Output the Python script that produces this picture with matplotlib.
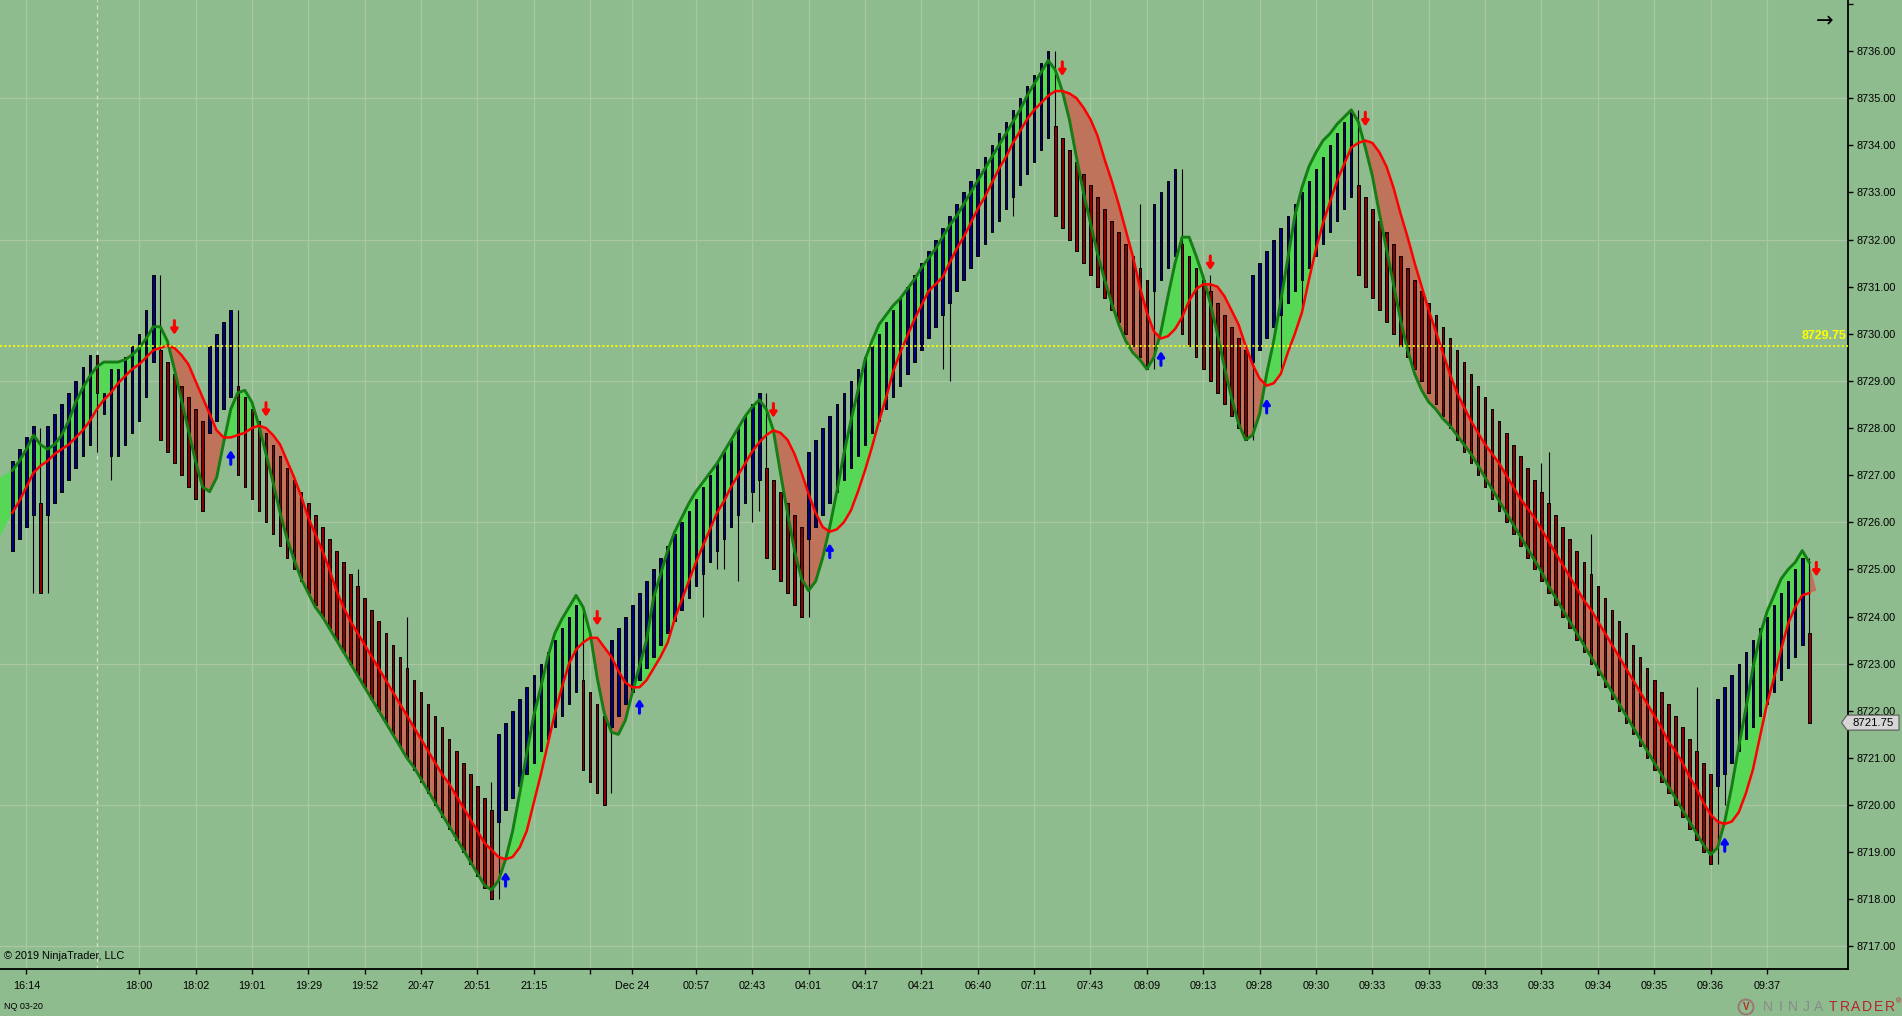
import numpy as np
import matplotlib
matplotlib.use('Agg')
import matplotlib.pyplot as plt
from matplotlib.patches import Polygon, Circle
from matplotlib.transforms import blended_transform_factory

plt.rcParams['font.family'] = ['Liberation Sans', 'DejaVu Sans']

# ---- bar data ----
bar_open = [
    8725.4, 8725.65, 8725.9, 8726.15, 8726.4, 8726.15, 8726.4, 8726.65, 8726.9, 8727.15,
    8727.4, 8727.65, 8729.55, 8728.3, 8727.4, 8727.4, 8727.65, 8727.9, 8728.15, 8728.65,
    8729.4, 8729.65, 8729.4, 8729.15, 8728.9, 8728.65, 8728.4, 8728.15, 8727.9, 8728.15,
    8728.4, 8728.65, 8728.9, 8728.65, 8728.4, 8728.15, 8727.9, 8727.65, 8727.4, 8727.15,
    8726.9, 8726.65, 8726.4, 8726.15, 8725.9, 8725.65, 8725.4, 8725.15, 8724.9, 8724.65,
    8724.4, 8724.15, 8723.9, 8723.65, 8723.4, 8723.15, 8722.9, 8722.65, 8722.4, 8722.15,
    8721.9, 8721.65, 8721.4, 8721.15, 8720.9, 8720.65, 8720.4, 8720.15, 8719.9, 8719.65,
    8719.9, 8720.15, 8720.4, 8720.65, 8720.9, 8721.15, 8721.4, 8721.65, 8721.9, 8722.15,
    8722.4, 8722.65, 8722.4, 8722.15, 8721.9, 8721.65, 8721.9, 8722.15, 8722.4, 8722.65,
    8722.9, 8723.15, 8723.4, 8723.65, 8723.9, 8724.15, 8724.4, 8724.65, 8724.9, 8725.15,
    8725.4, 8725.65, 8725.9, 8726.15, 8726.4, 8726.65, 8726.9, 8727.15, 8726.9, 8726.65,
    8726.4, 8726.15, 8725.9, 8725.65, 8725.9, 8726.15, 8726.4, 8726.65, 8726.9, 8727.15,
    8727.4, 8727.65, 8727.9, 8728.15, 8728.4, 8728.65, 8728.9, 8729.15, 8729.4, 8729.65,
    8729.9, 8730.15, 8730.4, 8730.65, 8730.9, 8731.15, 8731.4, 8731.65, 8731.9, 8732.15,
    8732.4, 8732.65, 8732.9, 8733.15, 8733.4, 8733.65, 8733.9, 8734.15, 8734.4, 8734.15,
    8733.9, 8733.65, 8733.4, 8733.15, 8732.9, 8732.65, 8732.4, 8732.15, 8731.9, 8731.65,
    8731.4, 8731.15, 8730.9, 8731.15, 8731.4, 8731.65, 8731.9, 8731.65, 8731.4, 8731.15,
    8730.9, 8730.65, 8730.4, 8730.15, 8729.9, 8729.65, 8729.4, 8729.65, 8729.9, 8730.15,
    8730.4, 8730.65, 8730.9, 8731.15, 8731.4, 8731.65, 8731.9, 8732.15, 8732.4, 8732.65,
    8732.9, 8733.15, 8732.9, 8732.65, 8732.4, 8732.15, 8731.9, 8731.65, 8731.4, 8731.15,
    8730.9, 8730.65, 8730.4, 8730.15, 8729.9, 8729.65, 8729.4, 8729.15, 8728.9, 8728.65,
    8728.4, 8728.15, 8727.9, 8727.65, 8727.4, 8727.15, 8726.9, 8726.65, 8726.4, 8726.15,
    8725.9, 8725.65, 8725.4, 8725.15, 8724.9, 8724.65, 8724.4, 8724.15, 8723.9, 8723.65,
    8723.4, 8723.15, 8722.9, 8722.65, 8722.4, 8722.15, 8721.9, 8721.65, 8721.4, 8721.15,
    8720.9, 8720.65, 8720.4, 8720.65, 8720.9, 8721.15, 8721.4, 8721.65, 8721.9, 8722.15,
    8722.4, 8722.65, 8722.9, 8723.15, 8723.4, 8723.65]
bar_close = [
    8727.3, 8727.55, 8727.8, 8728.05, 8724.5, 8728.05, 8728.3, 8728.5, 8728.75, 8729.0,
    8729.3, 8729.55, 8728.75, 8728.75, 8729.25, 8729.25, 8729.5, 8729.75, 8730.0, 8730.5,
    8731.25, 8727.75, 8727.5, 8727.25, 8727.0, 8726.75, 8726.5, 8726.25, 8729.75, 8730.0,
    8730.25, 8730.5, 8727.0, 8726.75, 8726.5, 8726.25, 8726.0, 8725.75, 8725.5, 8725.25,
    8725.0, 8724.75, 8724.5, 8724.25, 8724.0, 8723.75, 8723.5, 8723.25, 8723.0, 8722.75,
    8722.5, 8722.25, 8722.0, 8721.75, 8721.5, 8721.25, 8721.0, 8720.75, 8720.5, 8720.25,
    8720.0, 8719.75, 8719.5, 8719.25, 8719.0, 8718.75, 8718.5, 8718.25, 8718.0, 8721.5,
    8721.75, 8722.0, 8722.25, 8722.5, 8722.75, 8723.0, 8723.25, 8723.5, 8723.75, 8724.0,
    8724.25, 8720.75, 8720.5, 8720.25, 8720.0, 8723.5, 8723.75, 8724.0, 8724.25, 8724.5,
    8724.75, 8725.0, 8725.25, 8725.5, 8725.75, 8726.0, 8726.25, 8726.5, 8726.75, 8727.0,
    8727.25, 8727.5, 8727.75, 8728.0, 8728.25, 8728.5, 8728.75, 8725.25, 8725.0, 8724.75,
    8724.5, 8724.25, 8724.0, 8727.5, 8727.75, 8728.0, 8728.25, 8728.5, 8728.75, 8729.0,
    8729.25, 8729.5, 8729.75, 8730.0, 8730.25, 8730.5, 8730.75, 8731.0, 8731.25, 8731.5,
    8731.75, 8732.0, 8732.25, 8732.5, 8732.75, 8733.0, 8733.25, 8733.5, 8733.75, 8734.0,
    8734.25, 8734.5, 8734.75, 8735.0, 8735.25, 8735.5, 8735.75, 8736.0, 8732.5, 8732.25,
    8732.0, 8731.75, 8731.5, 8731.25, 8731.0, 8730.75, 8730.5, 8730.25, 8730.0, 8729.75,
    8729.5, 8729.25, 8732.75, 8733.0, 8733.25, 8733.5, 8730.0, 8729.75, 8729.5, 8729.25,
    8729.0, 8728.75, 8728.5, 8728.25, 8728.0, 8727.75, 8731.25, 8731.5, 8731.75, 8732.0,
    8732.25, 8732.5, 8732.75, 8733.0, 8733.25, 8733.5, 8733.75, 8734.0, 8734.25, 8734.5,
    8734.75, 8731.25, 8731.0, 8730.75, 8730.5, 8730.25, 8730.0, 8729.75, 8729.5, 8729.25,
    8729.0, 8728.75, 8728.5, 8728.25, 8728.0, 8727.75, 8727.5, 8727.25, 8727.0, 8726.75,
    8726.5, 8726.25, 8726.0, 8725.75, 8725.5, 8725.25, 8725.0, 8724.75, 8724.5, 8724.25,
    8724.0, 8723.75, 8723.5, 8723.25, 8723.0, 8722.75, 8722.5, 8722.25, 8722.0, 8721.75,
    8721.5, 8721.25, 8721.0, 8720.75, 8720.5, 8720.25, 8720.0, 8719.75, 8719.5, 8719.25,
    8719.0, 8718.75, 8722.25, 8722.5, 8722.75, 8723.0, 8723.25, 8723.5, 8723.75, 8724.0,
    8724.25, 8724.5, 8724.75, 8725.0, 8725.25, 8721.75]
# wicks that stick out of the body
wick_high = {4: 8728.0, 21: 8731.25, 32: 8730.5, 49: 8725.0, 56: 8724.0, 68: 8720.5,
             81: 8724.15, 107: 8728.75, 148: 8736.0, 160: 8732.75, 166: 8733.5,
             170: 8731.25, 191: 8734.75, 217: 8727.25, 218: 8727.5, 224: 8725.75,
             239: 8722.5, 255: 8725.25}
wick_low = {3: 8724.5, 5: 8724.5, 12: 8727.5, 14: 8726.9, 69: 8718.0, 85: 8720.25,
            98: 8724.0, 100: 8725.0, 101: 8725.0, 103: 8724.75, 105: 8726.0,
            106: 8726.25, 113: 8724.0, 132: 8729.25, 133: 8729.0, 142: 8732.5,
            162: 8729.25, 176: 8727.75, 180: 8729.25, 183: 8730.5, 242: 8718.75,
            243: 8720.0}

# fast (green) and slow (red) average lines
fast_line = [
    8727.1, 8727.3, 8727.55, 8727.85, 8727.65, 8727.55, 8727.65, 8727.85, 8728.15, 8728.55,
    8728.85, 8729.1, 8729.3, 8729.4, 8729.4, 8729.4, 8729.45, 8729.55, 8729.7, 8729.9,
    8730.15, 8730.15, 8729.85, 8729.25, 8728.6, 8727.95, 8727.3, 8726.75, 8726.65, 8726.95,
    8727.7, 8728.4, 8728.75, 8728.8, 8728.55, 8728.05, 8727.45, 8726.85, 8726.2, 8725.65,
    8725.2, 8724.8, 8724.5, 8724.2, 8724.0, 8723.75, 8723.5, 8723.25, 8723.0, 8722.75,
    8722.5, 8722.25, 8722.0, 8721.75, 8721.5, 8721.25, 8721.0, 8720.8, 8720.55, 8720.3,
    8720.05, 8719.8, 8719.55, 8719.3, 8719.05, 8718.8, 8718.55, 8718.3, 8718.2, 8718.4,
    8718.85, 8719.45, 8720.25, 8721.1, 8721.9, 8722.5, 8723.15, 8723.65, 8723.95, 8724.2,
    8724.45, 8724.2, 8723.65, 8722.7, 8721.95, 8721.55, 8721.5, 8721.8, 8722.4, 8722.95,
    8723.5, 8724.4, 8724.9, 8725.4, 8725.8, 8726.1, 8726.4, 8726.65, 8726.85, 8727.05,
    8727.25, 8727.5, 8727.75, 8728.0, 8728.25, 8728.45, 8728.6, 8728.4, 8727.95, 8727.05,
    8726.2, 8725.4, 8724.8, 8724.55, 8724.75, 8725.25, 8725.9, 8726.65, 8727.45, 8728.15,
    8728.8, 8729.45, 8729.85, 8730.2, 8730.4, 8730.6, 8730.75, 8730.95, 8731.15, 8731.4,
    8731.6, 8731.8, 8732.05, 8732.3, 8732.5, 8732.75, 8733.0, 8733.25, 8733.5, 8733.75,
    8734.0, 8734.25, 8734.5, 8734.75, 8735.05, 8735.3, 8735.55, 8735.8, 8735.6, 8735.15,
    8734.55, 8733.75, 8733.0, 8732.35, 8731.7, 8731.15, 8730.65, 8730.2, 8729.85, 8729.6,
    8729.45, 8729.25, 8729.5, 8730.05, 8730.8, 8731.5, 8732.05, 8732.05, 8731.65, 8731.2,
    8730.65, 8730.0, 8729.3, 8728.65, 8728.1, 8727.75, 8727.85, 8728.3, 8729.15, 8729.85,
    8730.7, 8731.6, 8732.5, 8733.1, 8733.55, 8733.85, 8734.1, 8734.25, 8734.45, 8734.6,
    8734.75, 8734.5, 8733.95, 8733.35, 8732.55, 8731.8, 8731.05, 8730.3, 8729.65, 8729.15,
    8728.8, 8728.55, 8728.4, 8728.2, 8728.05, 8727.85, 8727.65, 8727.45, 8727.2, 8726.95,
    8726.7, 8726.45, 8726.2, 8725.95, 8725.7, 8725.45, 8725.2, 8724.95, 8724.65, 8724.4,
    8724.15, 8723.9, 8723.65, 8723.4, 8723.15, 8722.9, 8722.65, 8722.4, 8722.15, 8721.9,
    8721.65, 8721.4, 8721.15, 8720.9, 8720.65, 8720.4, 8720.15, 8719.9, 8719.65, 8719.4,
    8719.15, 8718.95, 8719.1, 8719.65, 8720.4, 8721.25, 8722.05, 8722.9, 8723.6, 8724.1,
    8724.45, 8724.8, 8725.0, 8725.15, 8725.4, 8725.15]
slow_line = [
    8726.2, 8726.45, 8726.75, 8727.05, 8727.2, 8727.3, 8727.45, 8727.55, 8727.65, 8727.8,
    8727.95, 8728.15, 8728.4, 8728.6, 8728.75, 8728.95, 8729.1, 8729.25, 8729.35, 8729.5,
    8729.65, 8729.7, 8729.75, 8729.7, 8729.55, 8729.35, 8729.0, 8728.65, 8728.3, 8727.95,
    8727.8, 8727.8, 8727.85, 8727.9, 8728.0, 8728.05, 8728.0, 8727.85, 8727.65, 8727.3,
    8726.95, 8726.55, 8726.1, 8725.75, 8725.4, 8725.0, 8724.55, 8724.2, 8723.9, 8723.65,
    8723.4, 8723.15, 8722.9, 8722.65, 8722.4, 8722.15, 8721.9, 8721.65, 8721.4, 8721.15,
    8720.9, 8720.65, 8720.45, 8720.2, 8719.95, 8719.7, 8719.45, 8719.2, 8719.05, 8718.9,
    8718.85, 8718.9, 8719.1, 8719.45, 8720.05, 8720.65, 8721.3, 8721.95, 8722.5, 8723.0,
    8723.3, 8723.45, 8723.55, 8723.55, 8723.35, 8723.15, 8722.85, 8722.6, 8722.5, 8722.5,
    8722.65, 8722.9, 8723.15, 8723.45, 8723.95, 8724.35, 8724.75, 8725.15, 8725.5, 8725.85,
    8726.2, 8726.45, 8726.75, 8727.0, 8727.25, 8727.5, 8727.7, 8727.85, 8727.95, 8727.9,
    8727.75, 8727.45, 8727.05, 8726.6, 8726.2, 8725.9, 8725.8, 8725.85, 8726.0, 8726.25,
    8726.65, 8727.1, 8727.6, 8728.15, 8728.65, 8729.2, 8729.6, 8729.95, 8730.3, 8730.6,
    8730.9, 8731.05, 8731.2, 8731.5, 8731.8, 8732.05, 8732.35, 8732.65, 8732.9, 8733.2,
    8733.5, 8733.75, 8734.05, 8734.3, 8734.55, 8734.75, 8734.9, 8735.05, 8735.15, 8735.15,
    8735.1, 8735.0, 8734.8, 8734.55, 8734.2, 8733.7, 8733.25, 8732.75, 8732.2, 8731.65,
    8731.0, 8730.45, 8730.05, 8729.9, 8729.95, 8730.1, 8730.35, 8730.7, 8730.95, 8731.05,
    8731.05, 8731.0, 8730.8, 8730.5, 8730.2, 8729.75, 8729.35, 8729.05, 8728.9, 8728.95,
    8729.15, 8729.6, 8730.0, 8730.45, 8731.15, 8731.8, 8732.35, 8732.8, 8733.25, 8733.6,
    8733.95, 8734.05, 8734.1, 8734.05, 8733.85, 8733.55, 8733.1, 8732.55, 8732.05, 8731.5,
    8731.0, 8730.5, 8730.05, 8729.6, 8729.15, 8728.75, 8728.45, 8728.15, 8727.9, 8727.65,
    8727.45, 8727.25, 8727.0, 8726.75, 8726.5, 8726.3, 8726.1, 8725.85, 8725.6, 8725.35,
    8725.1, 8724.85, 8724.6, 8724.35, 8724.15, 8723.9, 8723.65, 8723.4, 8723.15, 8722.9,
    8722.65, 8722.4, 8722.15, 8721.9, 8721.65, 8721.35, 8721.15, 8720.9, 8720.6, 8720.35,
    8720.05, 8719.8, 8719.65, 8719.6, 8719.65, 8719.85, 8720.25, 8720.75, 8721.45, 8722.15,
    8722.7, 8723.3, 8723.85, 8724.2, 8724.45, 8724.5]
# band values at the left edge and where the band closes after the last bar
lead_fast, lead_slow = 8726.95, 8725.7
tail_close = 8724.55

# signal arrows (bar index, centre price)
up_arrow_bars = [31, 70, 89, 116, 163, 178, 243]
up_arrow_y = [8727.38, 8718.43, 8722.1, 8725.4, 8729.48, 8728.47, 8719.17]
down_arrow_bars = [23, 36, 83, 108, 149, 170, 192, 256]
down_arrow_y = [8730.13, 8728.39, 8723.96, 8728.37, 8735.62, 8731.5, 8734.55, 8725.0]

# time axis
xtick_pos = [2, 18, 26, 34, 42, 50, 58, 66, 74, 82, 88, 97, 105, 113, 121, 129, 137,
             145, 153, 161, 169, 177, 185, 193, 201, 209, 217, 225, 233, 241, 249]
xtick_lab = ['16:14', '18:00', '18:02', '19:01', '19:29', '19:52', '20:47', '20:51',
             '21:15', '', 'Dec 24', '00:57', '02:43', '04:01', '04:17', '04:21', '06:40',
             '07:11', '07:43', '08:09', '09:13', '09:28', '09:30', '09:33', '09:33',
             '09:33', '09:33', '09:34', '09:35', '09:36', '09:37']
session_break = 12
price_ticks = list(range(8717, 8738))
grid_prices = [8717, 8720, 8723, 8726, 8729, 8732, 8735]
line_price = 8729.75
last_price = 8721.75

# ---- layout ----
BG = '#8fbc8f'
W, H = 1902, 1016
plot_w, plot_h = 1848, 969.3
bar0_px, bar_px = 12.3, 7.047

fig = plt.figure(figsize=(W / 100, H / 100), dpi=100, facecolor=BG)
ax = fig.add_axes([0, 1 - plot_h / H, plot_w / W, plot_h / H])
ax.set_facecolor(BG)
x_left = -bar0_px / bar_px
ax.set_xlim(x_left, (plot_w - bar0_px) / bar_px)
ax.set_ylim(8716.516, 8737.082)

# grid
grid_c = '#aac7a3'
for p in grid_prices:
    ax.axhline(p, color=grid_c, lw=0.9, zorder=0.5)
for t in xtick_pos:
    ax.axvline(t, color=grid_c, lw=0.9, zorder=0.5)
ax.axvline(session_break, color='#d5e3d1', lw=0.9, dashes=(3, 3), zorder=0.6)

# band between the two lines
x = np.arange(len(bar_open))
fx = np.concatenate([[x_left], x])
fg = np.array([lead_fast] + fast_line)
fr = np.array([lead_slow] + slow_line)
ax.fill_between(fx, fg, fr, where=fg >= fr, interpolate=True, color='#56d856', lw=0, zorder=1)
ax.fill_between(fx, fg, fr, where=fg < fr, interpolate=True, color='#bf735b', lw=0, zorder=1)
n = len(x) - 1
ax.fill([n, n, n + 1], [fast_line[-1], slow_line[-1], tail_close], color='#bf735b', lw=0, zorder=1)

# candles
o = np.array(bar_open)
c = np.array(bar_close)
hi = np.maximum(o, c)
lo = np.minimum(o, c)
for k, v in wick_high.items():
    hi[k] = v
for k, v in wick_low.items():
    lo[k] = v
ax.vlines(x, lo, hi, color='black', lw=0.8, zorder=3)
up = c > o
ax.bar(x[up], (c - o)[up], bottom=o[up], width=0.36, color='#000080',
       edgecolor='black', linewidth=0.7, zorder=3.2)
ax.bar(x[~up], (o - c)[~up], bottom=c[~up], width=0.36, color='#8b0000',
       edgecolor='black', linewidth=0.7, zorder=3.2)

# average lines
ax.plot(x, fast_line, color='#147d14', lw=2.1, zorder=4, solid_joinstyle='round')
ax.plot(x, slow_line, color='#ff0000', lw=1.8, zorder=4.2, solid_joinstyle='round')

# arrows: thin stem with a small head
half = 0.15
astyle = '-|>,head_width=0.2,head_length=0.3'
for b, y in zip(up_arrow_bars, up_arrow_y):
    ax.annotate('', xy=(b, y + half), xytext=(b, y - half), zorder=5,
                arrowprops=dict(arrowstyle=astyle, color='#0000ff', lw=2.2,
                                shrinkA=0, shrinkB=0, mutation_scale=10))
for b, y in zip(down_arrow_bars, down_arrow_y):
    ax.annotate('', xy=(b, y - half), xytext=(b, y + half), zorder=5,
                arrowprops=dict(arrowstyle=astyle, color='#ff0000', lw=2.2,
                                shrinkA=0, shrinkB=0, mutation_scale=10))

# yellow price line
ax.axhline(line_price, color='#ffff00', lw=1.2, linestyle=(0, (1.3, 1.3)), zorder=4.5)
tr = blended_transform_factory(ax.transAxes, ax.transData)
ax.text(0.999, line_price + 0.07, f'{line_price:.2f}', transform=tr, ha='right',
        va='bottom', color='#ffff00', fontsize=9, fontweight='bold', zorder=6)

# axes
for s in ['top', 'left']:
    ax.spines[s].set_visible(False)
for s in ['right', 'bottom']:
    ax.spines[s].set_color('black')
    ax.spines[s].set_linewidth(1.3)
ax.yaxis.tick_right()
ax.set_yticks(price_ticks)
ax.set_yticklabels([f'{p:.2f}' if p < 8737 else '' for p in price_ticks])
ax.set_xticks(xtick_pos)
ax.set_xticklabels(xtick_lab)
ax.tick_params(axis='y', direction='out', length=3.6, width=1, pad=2.5, labelsize=7.8, colors='black')
ax.tick_params(axis='x', direction='out', length=3.6, width=1, pad=5, labelsize=7.8, colors='black')

# last price marker on the axis
def fpt(px, py):
    return (px / W, 1 - py / H)

y_lp = 51 + (8736 - last_price) * 47.13
marker = Polygon([fpt(1841.5, y_lp), fpt(1847, y_lp - 7.5), fpt(1899, y_lp - 7.5),
                  fpt(1899, y_lp + 7.5), fpt(1847, y_lp + 7.5)], closed=True,
                 transform=fig.transFigure, facecolor='#d6d6d6', edgecolor='#5a5a5a',
                 lw=0.8, zorder=10)
fig.add_artist(marker)
fig.text(*fpt(1873, y_lp), f'{last_price:.2f}', ha='center', va='center', fontsize=8.2, zorder=11)

# texts
fig.text(*fpt(1825, 21), '\u2192', ha='center', va='center', fontsize=15, color='black',
         family=['DejaVu Sans'])
fig.text(*fpt(4.5, 956), '\u00a9 2019 NinjaTrader, LLC', ha='left', va='center', fontsize=7.8)
fig.text(*fpt(4.5, 1006.5), 'NQ 03-20', ha='left', va='center', fontsize=6.5)

# logo
fig.add_artist(Circle((17.46, 0.09), 0.075, transform=fig.dpi_scale_trans, fill=False,
                      edgecolor='#9c7676', lw=1.4))
fig.text(*fpt(1746, 1007), 'V', ha='center', va='center', fontsize=7, color='#b22a2a',
         fontweight='bold')
logo = 'NINJATRADER'
for k, ch in enumerate(logo):
    if k < 5:
        px = 1768 + k * 12.6
        col = '#8a8a8a'
    else:
        px = 1833 + (k - 5) * 11.4
        col = '#b3262b'
    fig.text(*fpt(px, 1007), ch, ha='center', va='center', fontsize=10, color=col)
fig.text(*fpt(1899, 1002), '\u00ae', ha='center', va='center', fontsize=5, color='#b3262b')

fig.savefig('out.png', dpi=100, facecolor=BG)
